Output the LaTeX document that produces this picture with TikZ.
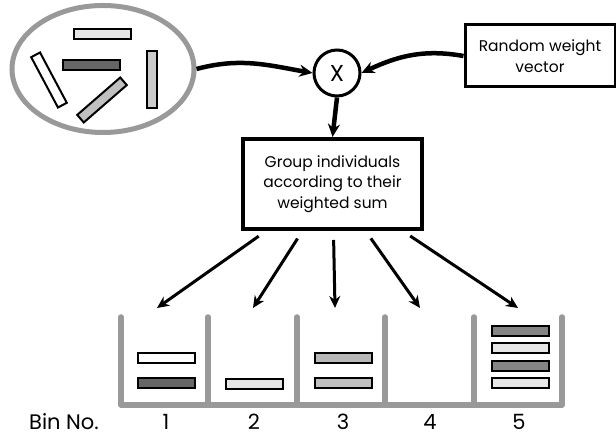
\documentclass[tikz,border=0pt]{standalone}
\usepackage{fontspec}
\setmainfont{Poppins}
\usepackage{xcolor}
\usetikzlibrary{arrows.meta,positioning,shapes.geometric}

\definecolor{ring}{HTML}{999999}
\definecolor{darkfill}{HTML}{666666}
\definecolor{midfill}{HTML}{C0C0C0}
\definecolor{dotfill}{HTML}{E6E6E6}
\definecolor{greydot}{HTML}{CCCCCC}
\definecolor{darkdot}{HTML}{858585}
\definecolor{hatchfill}{HTML}{B8B8B8}

\begin{document}
\begin{tikzpicture}[
  x=1pt, y=1pt,
  bar/.style={draw, line width=2pt, minimum width=57pt, minimum height=10pt,
    inner sep=0pt},
  procbox/.style={draw, align=center, inner sep=0pt, font=\fontsize{15.5}{20.5}\selectfont},
  wall/.style={draw=ring, line width=5.5pt, line cap=round, line join=round},
  arr/.style={-{Stealth[length=13pt,width=12pt]}, line width=4.5pt},
  binarr/.style={-{Stealth[length=12pt,width=11pt]}, line width=3pt},
  binlab/.style={font=\fontsize{21}{21}\selectfont}
]
\useasboundingbox (0,0) rectangle (616,438);

% population
\node[ellipse, draw=ring, line width=5pt, minimum width=182pt,
  minimum height=127pt] (pool) at (103,369) {};
\node[bar, fill=dotfill] (p1) at (102,404) {};
\node[bar, fill=darkfill] (p2) at (91,373) {};
\node[bar, fill=white, rotate=-62] (p3) at (49,358) {};
\node[bar, fill=greydot, rotate=90] (p4) at (152,358) {};
\node[bar, fill=midfill, rotate=41] (p5) at (102,338) {};

% weighting
\node[circle, draw, line width=3pt, minimum size=46pt, inner sep=0pt,
  font=\fontsize{23}{23}\selectfont] (mult) at (337,365) {X};
\node[procbox, line width=3pt, minimum width=150pt, minimum height=62pt]
  (weights) at (540,382) {Random weight\\vector};
\node[procbox, line width=4pt, minimum width=179pt, minimum height=90pt]
  (group) at (332.5,254) {Group individuals\\according to their\\weighted sum};

\draw[arr] (pool.east) to[out=15, in=170] (mult.west);
\draw[arr] (weights.west) to[out=170, in=25] (mult.east);
\draw[arr] (mult.south) -- (group.north);

% bins
\draw[wall] (121,121) -- (121,33) -- (562,33) -- (562,121);
\foreach \xw in {208,297,385,474}
  \draw[wall] (\xw,121) -- (\xw,33);

\foreach \i/\xt in {1/157,2/253,3/335,4/420,5/518} {
  \coordinate (top\i) at (\xt,130);
  \draw[binarr, shorten <=9pt] (group) -- (top\i);
}

\node[bar, fill=white] (b1a) at (166.5,80) {};
\node[bar, fill=darkfill] (b1b) at (166.5,54.5) {};
\node[bar, fill=dotfill] (b2a) at (254.5,54) {};
\node[bar, fill=hatchfill] (b3a) at (343.5,80) {};
\node[bar, fill=midfill] (b3b) at (343.5,54.5) {};
\node[bar, fill=darkdot] (b5a) at (520,107) {};
\node[bar, fill=dotfill] (b5b) at (520,90) {};
\node[bar, fill=darkdot] (b5c) at (520,72) {};
\node[bar, fill=dotfill] (b5d) at (520,55) {};

\node[binlab] (binno) at (64,16) {Bin No.};
\foreach \i/\xl in {1/166,2/254,3/343,4/430,5/519}
  \node[binlab] (lab\i) at (\xl,16) {\i};
\end{tikzpicture}
\end{document}
